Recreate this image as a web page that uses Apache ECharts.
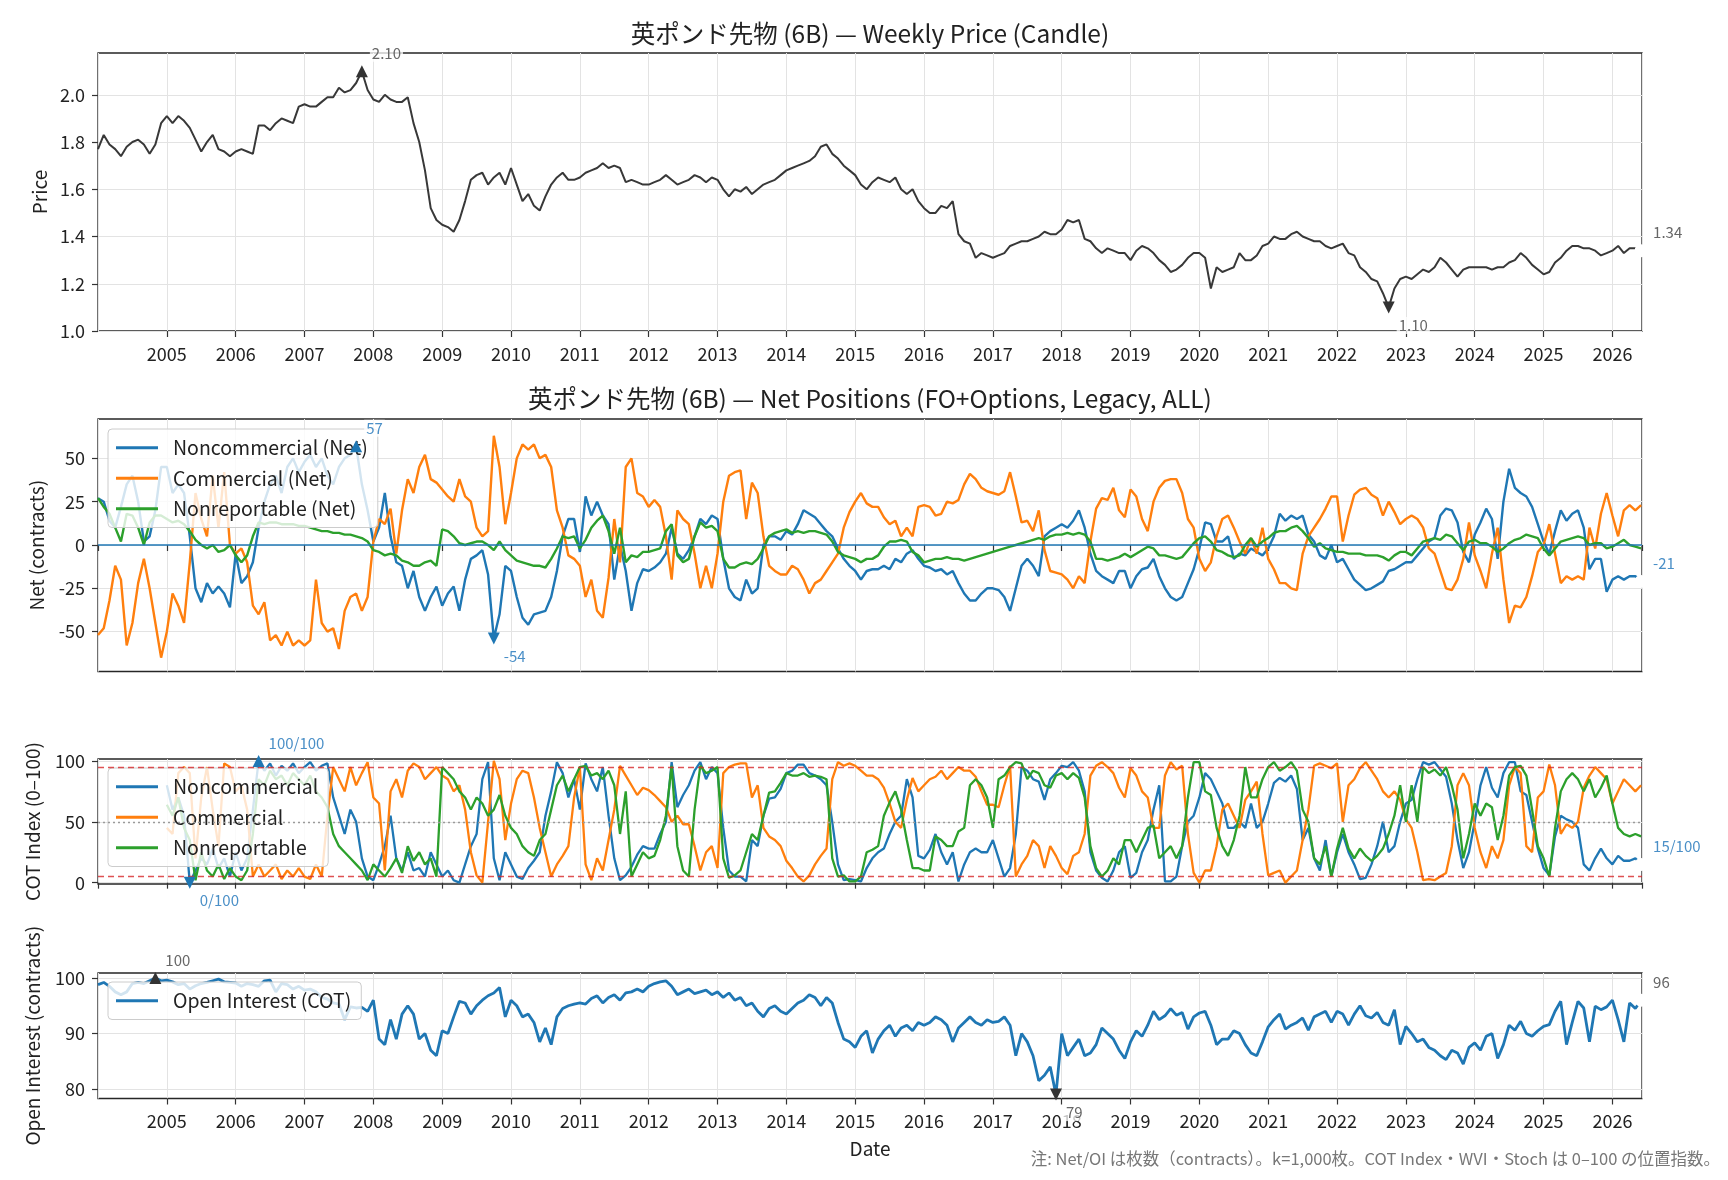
<!DOCTYPE html>
<html><head><meta charset="utf-8">
<script src="https://cdn.jsdelivr.net/npm/echarts@6/dist/echarts.min.js"></script>
<style>html,body{margin:0;padding:0;background:#fff}#c{width:1728px;height:1180px}</style>
</head><body><div id="c"></div>
<script>
// ---- monthly samples, Jan 2004 .. Jun 2026 ----
const START_YEAR = 2004;
const X_MIN = 2004, X_MAX = 2026.43;
const TITLE_PRICE = '英ポンド先物 (6B) — Weekly Price (Candle)';
const TITLE_NET = '英ポンド先物 (6B) — Net Positions (FO+Options, Legacy, ALL)';
const FOOTNOTE = '注: Net/OI は枚数（contracts）。k=1,000枚。COT Index・WVI・Stoch は 0–100 の位置指数。';

const price = [
1.77,1.83,1.79,1.77,1.74,1.78,1.80,1.81,1.79,1.75,1.79,1.88,
1.91,1.88,1.91,1.89,1.86,1.81,1.76,1.80,1.83,1.77,1.76,1.74,
1.76,1.77,1.76,1.75,1.87,1.87,1.85,1.88,1.90,1.89,1.88,1.95,
1.96,1.95,1.95,1.97,1.99,1.99,2.03,2.01,2.02,2.05,2.10,2.02,
1.98,1.97,2.00,1.98,1.97,1.97,1.99,1.88,1.80,1.68,1.52,1.47,
1.45,1.44,1.42,1.47,1.55,1.64,1.66,1.67,1.62,1.65,1.67,1.62,
1.69,1.62,1.55,1.58,1.53,1.51,1.57,1.62,1.65,1.67,1.64,1.64,
1.65,1.67,1.68,1.69,1.71,1.69,1.70,1.69,1.63,1.64,1.63,1.62,
1.62,1.63,1.64,1.66,1.64,1.62,1.63,1.64,1.66,1.65,1.63,1.65,
1.64,1.60,1.57,1.60,1.59,1.61,1.58,1.60,1.62,1.63,1.64,1.66,
1.68,1.69,1.70,1.71,1.72,1.74,1.78,1.79,1.75,1.73,1.70,1.68,
1.66,1.62,1.60,1.63,1.65,1.64,1.63,1.65,1.60,1.58,1.60,1.55,
1.52,1.50,1.50,1.53,1.52,1.55,1.41,1.38,1.37,1.31,1.33,1.32,
1.31,1.32,1.33,1.36,1.37,1.38,1.38,1.39,1.40,1.42,1.41,1.41,
1.43,1.47,1.46,1.47,1.39,1.38,1.35,1.33,1.35,1.34,1.33,1.33,
1.30,1.34,1.36,1.35,1.33,1.30,1.28,1.25,1.26,1.28,1.31,1.33,
1.33,1.31,1.18,1.27,1.25,1.26,1.27,1.33,1.30,1.30,1.32,1.36,
1.37,1.40,1.39,1.39,1.41,1.42,1.40,1.39,1.38,1.38,1.36,1.35,
1.36,1.37,1.33,1.32,1.27,1.25,1.22,1.21,1.16,1.10,1.18,1.22,
1.23,1.22,1.24,1.26,1.25,1.27,1.31,1.29,1.26,1.23,1.26,1.27,
1.27,1.27,1.27,1.26,1.27,1.27,1.29,1.30,1.33,1.31,1.28,1.26,
1.24,1.25,1.29,1.31,1.34,1.36,1.36,1.35,1.35,1.34,1.32,1.33,
1.34,1.36,1.33,1.35,1.35,1.34];

const netNonComm = [
27,25,14,10,22,35,40,25,2,5,20,45,
45,30,35,30,5,-25,-33,-22,-28,-24,-28,-36,
-5,-22,-18,-10,10,25,35,40,30,45,50,42,
48,52,45,50,40,35,45,50,52,57,35,20,
2,10,30,5,-10,-12,-25,-15,-30,-38,-30,-24,
-35,-28,-24,-38,-20,-8,-6,-3,-17,-54,-40,-12,
-15,-30,-42,-46,-40,-39,-38,-30,-15,5,15,15,
-4,28,17,25,17,12,-20,0,-15,-38,-22,-14,
-15,-13,-10,-5,10,-5,-8,-3,5,15,12,17,
15,-8,-25,-30,-32,-20,-28,-25,0,5,5,3,
8,6,12,20,18,16,12,8,5,-2,-8,-12,
-15,-20,-15,-14,-14,-12,-14,-8,-10,-5,-3,-8,
-12,-13,-15,-14,-17,-15,-22,-28,-32,-32,-28,-25,
-25,-26,-30,-38,-25,-12,-8,-12,-18,5,8,10,
12,10,14,20,10,-5,-15,-18,-20,-22,-15,-15,
-25,-18,-14,-13,-8,-18,-25,-30,-32,-30,-22,-14,
-2,13,12,2,2,5,-8,-5,-6,-2,-4,-6,
-2,5,18,14,17,15,17,6,2,-6,-8,0,
-10,-8,-14,-20,-23,-26,-25,-23,-21,-15,-14,-12,
-10,-10,-6,-2,2,4,17,21,20,13,-4,-10,
6,13,21,15,-8,25,44,33,30,28,22,12,
2,-5,8,20,14,18,20,10,-14,-8,-8,-27,
-20,-18,-20,-18,-18,-21];

const netComm = [
-52,-48,-32,-12,-20,-58,-45,-22,-8,-25,-45,-65,
-50,-28,-35,-45,-10,30,15,5,40,10,42,0,
-5,-2,-10,-35,-40,-33,-55,-52,-58,-50,-58,-55,
-58,-55,-20,-45,-50,-48,-60,-38,-30,-28,-38,-30,
2,15,12,21,-5,20,38,30,45,52,38,36,
32,28,25,38,28,25,10,5,8,63,45,12,
30,50,58,55,58,50,52,45,20,10,-6,-8,
-12,-30,-20,-38,-42,-19,15,-10,45,50,30,28,
22,26,22,5,-20,20,15,12,-5,-25,-12,-25,
-5,25,40,42,43,15,36,30,5,-12,-15,-17,
-17,-12,-14,-20,-28,-22,-20,-15,-10,-5,10,19,
25,30,24,22,22,16,12,14,5,10,5,22,
23,22,17,18,25,24,26,35,41,38,33,31,
30,29,31,42,28,13,14,8,20,-3,-15,-16,
-17,-20,-25,-18,-22,2,21,27,26,33,20,16,
32,28,15,8,25,33,37,38,38,30,15,10,
-8,-15,-10,5,15,17,10,2,-5,4,-5,10,
-8,-14,-22,-22,-25,-26,-5,5,10,15,21,28,
28,2,17,29,32,33,29,27,17,25,19,12,
15,17,15,10,-2,-5,-15,-25,-26,-20,-8,13,
-6,-15,-25,-5,10,-20,-45,-35,-36,-30,-18,-4,
0,12,-5,-22,-18,-20,-18,-20,10,-2,18,30,
17,5,20,23,20,23];

const netNonRep = [
27,22,18,10,2,18,17,10,0,13,17,17,
15,13,14,12,8,3,0,-2,0,-4,-3,0,
-6,-10,-6,5,13,12,13,13,12,12,12,11,
11,10,9,8,8,7,7,6,6,5,4,2,
-3,-4,-6,-5,-6,-9,-10,-12,-12,-10,-9,-12,
9,8,5,1,0,1,2,2,0,-3,2,-3,
-6,-9,-10,-11,-12,-12,-13,-8,-2,5,4,5,
-2,3,10,14,17,8,-5,10,-10,-6,-7,-4,
-4,-3,-2,8,12,-6,-10,-8,5,13,10,11,
8,-8,-13,-13,-11,-10,-11,-8,-2,5,7,8,
9,7,8,7,8,8,7,6,2,-4,-6,-7,
-8,-10,-8,-8,-6,-1,2,2,3,2,-4,-6,
-10,-9,-8,-8,-7,-8,-8,-9,-8,-7,-6,-5,
-4,-3,-2,-1,0,1,2,3,4,3,5,6,
6,7,6,7,6,2,-8,-8,-9,-8,-7,-5,
-7,-5,-3,-1,-2,-6,-6,-7,-8,-7,-3,1,
4,5,2,-3,-4,-6,-7,-6,0,4,-1,2,
4,7,8,8,10,11,8,4,-1,1,-2,-3,
-4,-4,-5,-5,-5,-6,-6,-6,-7,-9,-6,-4,
-4,-6,-2,2,3,4,3,6,5,1,-3,2,
3,1,1,-1,-4,-2,1,3,4,6,5,4,
-2,-6,-2,2,3,4,5,4,0,1,1,-2,
-1,1,3,0,-1,-2];

// COT Index series start in Jan 2005
const COT_OFFSET = 12;
const cotNonComm = [
80,60,70,55,0,10,20,15,28,12,20,5,
25,10,20,60,100,92,98,88,96,92,98,90,
95,99,92,96,98,70,55,40,60,50,20,5,
2,15,30,55,20,10,25,10,12,5,25,15,
5,10,2,0,15,30,40,85,99,20,2,25,
15,5,3,12,18,25,55,75,99,90,70,85,
60,98,85,75,95,55,20,2,6,13,23,30,
28,28,40,50,99,62,72,80,92,99,85,95,
90,45,10,5,5,1,35,30,55,69,70,77,
90,92,97,97,90,88,85,80,50,15,2,3,
2,1,12,20,25,28,40,50,55,85,70,22,
20,27,40,25,15,25,1,15,25,28,25,25,
35,20,5,12,40,95,92,85,83,68,85,90,
96,95,99,92,75,25,10,4,1,10,25,30,
4,8,25,35,60,80,1,1,5,30,50,55,
70,90,85,75,65,45,45,50,45,65,45,50,
65,82,86,83,88,77,35,45,20,10,35,5,
25,40,25,15,3,4,15,30,50,25,30,50,
65,68,85,99,97,99,93,87,65,35,12,25,
50,80,95,78,70,90,99,99,75,72,50,28,
12,6,38,55,52,50,45,15,10,20,28,20,
15,22,18,18,20,15];

const cotComm = [
45,40,90,95,90,20,70,95,60,30,98,95,
75,80,60,5,15,5,10,15,3,10,5,12,
5,3,15,5,55,95,85,75,95,80,90,99,
70,65,10,75,85,70,92,98,95,85,90,95,
88,85,75,80,60,25,6,0,50,100,85,35,
65,85,92,90,70,45,25,5,15,22,30,70,
95,15,2,20,10,35,60,96,88,80,72,78,
76,72,67,62,50,55,48,48,30,10,25,30,
12,90,95,97,98,98,70,80,45,38,35,30,
18,12,5,1,6,15,22,28,85,99,96,98,
96,92,88,88,85,78,65,50,45,68,86,75,
80,85,87,92,85,90,95,92,92,87,75,64,
64,62,80,96,5,15,22,35,30,12,30,22,
12,7,22,25,40,88,96,99,95,90,78,70,
94,88,75,70,45,45,88,99,93,96,40,8,
0,10,10,30,60,65,55,45,68,75,83,40,
6,8,10,0,5,10,35,60,96,98,96,94,
98,50,80,85,94,99,92,85,75,70,75,68,
52,45,25,2,3,2,5,8,30,80,90,80,
45,25,12,30,20,35,80,95,90,30,25,70,
75,97,80,40,48,45,50,78,88,95,90,85,
65,75,85,80,75,80];

const cotNonRep = [
64,55,70,45,35,2,25,10,5,15,3,12,
5,2,10,40,85,80,92,85,88,80,90,85,
80,88,75,70,62,40,30,25,20,15,10,2,
15,10,5,12,20,8,30,18,25,15,20,5,
95,90,85,75,70,60,70,65,55,60,72,55,
45,40,30,25,22,35,40,60,80,88,75,85,
95,96,88,90,85,92,80,40,75,5,15,25,
20,22,35,55,96,30,10,5,60,96,90,92,
95,20,4,6,10,25,40,35,55,74,75,82,
90,88,88,90,87,88,87,85,20,5,6,1,
1,5,25,27,30,55,66,75,60,35,12,12,
10,10,38,35,30,30,42,45,80,85,80,70,
45,85,88,95,99,98,85,92,90,80,78,88,
90,85,90,86,70,30,12,5,10,20,15,35,
35,25,35,45,47,20,25,30,20,30,70,99,
99,75,72,45,30,22,35,55,95,70,70,85,
95,99,92,95,99,92,60,50,20,15,30,5,
28,45,28,20,28,22,18,22,28,40,55,80,
50,80,50,95,90,93,88,95,80,60,20,40,
65,55,65,62,35,55,88,95,96,88,60,30,
20,5,45,75,85,90,85,75,85,70,78,88,
65,45,40,38,40,38];

const openInterest = [
98.8,99.2,98.5,97.5,97.0,97.5,99.0,99.2,99.0,99.5,100,99.5,
99.6,99.3,98.8,99.0,98.0,98.6,99.0,99.2,99.5,99.8,99.3,99.2,
99.1,98.5,99.0,98.8,98.5,99.5,99.6,97.5,99.0,98.8,98.0,98.5,
97.8,98.0,97.5,96.5,96.2,95.5,95.3,92.5,94.8,94.6,94.7,94.0,
96.0,89.0,88.0,92.5,89.0,93.5,95.0,93.5,89.0,90.0,87.0,86.0,
90.5,90.0,93.0,95.8,95.5,93.5,95.0,96.0,96.8,97.3,98.3,93.0,
96.0,95.0,93.0,93.5,92.0,88.5,91.0,88.0,93.0,94.5,95.0,95.3,
95.5,95.3,96.3,96.8,95.5,96.5,97.0,96.0,97.3,97.5,98.0,97.5,
98.5,99.0,99.3,99.5,98.5,97.0,97.5,98.0,97.2,97.5,97.8,97.0,
97.5,96.5,97.3,96.0,96.5,95.0,95.5,94.0,93.0,94.5,95.0,94.0,
93.5,94.5,95.5,96.0,97.0,96.5,95.0,96.5,95.5,92.0,89.0,88.5,
87.5,89.5,90.5,86.5,89.0,90.5,91.5,89.5,91.0,91.5,90.5,92.0,
91.5,92.0,93.0,92.5,91.5,88.5,91.0,92.0,93.0,92.0,91.5,92.5,
92.0,92.2,93.0,91.5,86.0,90.0,88.5,86.0,81.5,82.5,84.0,79.0,
90.0,86.0,87.5,89.0,86.0,86.5,88.0,91.0,90.0,89.0,87.0,85.5,
88.5,90.5,89.5,91.5,94.0,92.5,93.2,94.5,93.3,93.8,90.8,93.0,
93.7,94.0,91.5,88.0,89.0,89.0,90.5,90.0,88.0,86.5,86.0,88.5,
91.2,92.5,93.5,90.8,91.5,92.0,92.8,90.6,93.0,93.5,94.0,92.0,
94.0,93.5,91.5,93.5,95.0,93.2,92.8,93.8,92.0,91.5,94.3,88.0,
91.3,90.0,88.5,89.0,87.5,87.0,86.0,85.3,87.0,86.5,84.5,87.5,
88.3,87.0,89.5,90.0,85.5,88.0,91.5,90.6,92.2,90.0,89.5,90.5,
91.3,91.6,94.0,95.8,88.0,92.0,95.8,94.6,88.5,94.9,94.3,94.8,
96.0,92.5,88.5,95.5,94.5,96.0];

const yearTicksFmt = v => String(Math.round(v));
const netTicks = [-50, -25, 0, 25, 50];
const cotTicks = [0, 50, 100];
const oiTicks = [80, 90, 100];
const priceTicks = [1.0, 1.2, 1.4, 1.6, 1.8, 2.0];

// ---- build ----
const FONT = '"Noto Sans CJK JP", "Noto Sans", sans-serif';
const C_BLUE = '#1f77b4', C_ORANGE = '#ff7f0e', C_GREEN = '#2ca02c', C_PRICE = '#383838';
const LBL_BLUE = '#4a8fc7', LBL_GRAY = '#666666';
const xAt = i => START_YEAR + i / 12;
const pairs = (arr, off = 0) => arr.map((v, i) => [xAt(i + off), v]);

function argExt(arr) {
  let mx = 0, mn = 0;
  arr.forEach((v, i) => { if (v > arr[mx]) mx = i; if (v < arr[mn]) mn = i; });
  return {mx, mn};
}
function tri(x, y, text, down, mColor, lColor) {
  return {
    coord: [x, y], symbol: 'triangle', symbolSize: 12, symbolRotate: down ? 180 : 0,
    itemStyle: {color: mColor},
    label: {show: true, formatter: text, position: 'inside', offset: [8, down ? 18 : -18],
      align: 'left', verticalAlign: 'middle', color: lColor, fontSize: 15, fontFamily: FONT,
      backgroundColor: 'rgba(255,255,255,0.75)', padding: [1, 2]}
  };
}
function lastPt(x, y, text, lColor) {
  return {
    coord: [x, y], symbol: 'emptyCircle', symbolSize: 11,
    itemStyle: {color: '#fff', borderColor: '#333', borderWidth: 1.5},
    label: {show: true, formatter: text, position: 'inside', offset: [12, -18],
      align: 'left', verticalAlign: 'middle', color: lColor, fontSize: 15, fontFamily: FONT}
  };
}
const markBase = {animation: false, silent: true};

const pE = argExt(price), nE = argExt(netNonComm), cE = argExt(cotNonComm), oE = argExt(openInterest);
const lastI = price.length - 1;

const grids = [
  {left: 98, right: 86, top: 53, height: 278},
  {left: 98, right: 86, top: 419, height: 252.5},
  {left: 98, right: 86, top: 759, height: 125},
  {left: 98, right: 86, top: 973, height: 125.5}
].map(g => Object.assign(g, {show: true, borderColor: '#262626', borderWidth: 1.3, backgroundColor: 'transparent'}));

const xAxes = [0, 1, 2, 3].map(i => ({
  type: 'value', gridIndex: i, min: X_MIN, max: X_MAX, interval: 1,
  axisLine: {show: false},
  axisTick: {show: true, length: 6, lineStyle: {color: '#333', width: 1.2}},
  axisLabel: {show: i === 0 || i === 3, formatter: yearTicksFmt, showMinLabel: false, showMaxLabel: false,
    margin: 14, fontSize: 18, color: '#222', fontFamily: FONT},
  splitLine: {show: true, lineStyle: {color: '#e3e3e3', width: 1}},
  name: i === 3 ? 'Date' : '', nameLocation: 'middle', nameGap: 41,
  nameTextStyle: {fontSize: 19, color: '#222', fontFamily: FONT}
}));

function yAxis(i, min, max, ticks, fmt, name, gap) {
  return {
    type: 'value', gridIndex: i, min, max,
    axisLine: {show: false},
    axisTick: {show: true, length: 6, lineStyle: {color: '#333', width: 1.2}, customValues: ticks},
    axisLabel: {customValues: ticks, formatter: fmt, margin: 13, fontSize: 18, color: '#222', fontFamily: FONT},
    splitLine: {show: true, lineStyle: {color: '#e3e3e3', width: 1}},
    name, nameLocation: 'middle', nameGap: gap,
    nameTextStyle: {fontSize: 19, color: '#222', fontFamily: FONT}
  };
}
const yAxes = [
  yAxis(0, 1.0, 2.177, priceTicks, v => v.toFixed(1), 'Price', 48),
  yAxis(1, -73, 72.7, netTicks, v => String(v), 'Net (contracts)', 52),
  yAxis(2, -1.1, 101.6, cotTicks, v => String(v), 'COT Index (0–100)', 56),
  yAxis(3, 78.3, 100.9, oiTicks, v => String(v), 'Open Interest (contracts)', 56)
];

function line(name, data, color, width, gi) {
  return {name, type: 'line', xAxisIndex: gi, yAxisIndex: gi, data, showSymbol: false, symbol: 'none',
    lineStyle: {color, width}, itemStyle: {color}, emphasis: {disabled: true}, z: 2};
}

const s = [];
// Panel 1: price
const sPrice = line('Price', pairs(price), C_PRICE, 2.0, 0);
sPrice.markPoint = Object.assign({}, markBase, {data: [
  tri(xAt(pE.mx), price[pE.mx], price[pE.mx].toFixed(2), false, '#333', LBL_GRAY),
  tri(xAt(pE.mn), price[pE.mn], price[pE.mn].toFixed(2), true, '#333', LBL_GRAY),
  lastPt(xAt(lastI), price[lastI], price[lastI].toFixed(2), LBL_GRAY)
]});
s.push(sPrice);

// Panel 2: net positions
const sNC = line('Noncommercial (Net)', pairs(netNonComm), C_BLUE, 2.4, 1);
sNC.markPoint = Object.assign({}, markBase, {data: [
  tri(xAt(nE.mx), netNonComm[nE.mx], String(netNonComm[nE.mx]), false, C_BLUE, LBL_BLUE),
  tri(xAt(nE.mn), netNonComm[nE.mn], String(netNonComm[nE.mn]), true, C_BLUE, LBL_BLUE),
  lastPt(xAt(lastI), netNonComm[lastI], String(netNonComm[lastI]), LBL_BLUE)
]});
sNC.markLine = Object.assign({}, markBase, {symbol: 'none', label: {show: false},
  data: [{yAxis: 0}], lineStyle: {color: C_BLUE, width: 1.6, type: 'solid'}});
s.push(sNC);
s.push(line('Commercial (Net)', pairs(netComm), C_ORANGE, 2.4, 1));
s.push(line('Nonreportable (Net)', pairs(netNonRep), C_GREEN, 2.4, 1));

// Panel 3: COT index
const sCN = line('Noncommercial', pairs(cotNonComm, COT_OFFSET), C_BLUE, 2.3, 2);
const cotLastI = cotNonComm.length - 1;
sCN.markPoint = Object.assign({}, markBase, {data: [
  tri(xAt(cE.mx + COT_OFFSET), cotNonComm[cE.mx], cotNonComm[cE.mx] + '/100', false, C_BLUE, LBL_BLUE),
  tri(xAt(cE.mn + COT_OFFSET), cotNonComm[cE.mn], cotNonComm[cE.mn] + '/100', true, C_BLUE, LBL_BLUE),
  lastPt(xAt(cotLastI + COT_OFFSET), cotNonComm[cotLastI], cotNonComm[cotLastI] + '/100', LBL_BLUE)
]});
sCN.markLine = Object.assign({}, markBase, {symbol: 'none', label: {show: false}, data: [
  {yAxis: 95, lineStyle: {color: 'rgba(214,39,40,0.8)', width: 1.4, type: [6, 4]}},
  {yAxis: 5, lineStyle: {color: 'rgba(214,39,40,0.8)', width: 1.4, type: [6, 4]}},
  {yAxis: 50, lineStyle: {color: '#9a9a9a', width: 1.3, type: [2, 3]}}
]});
s.push(sCN);
s.push(line('Commercial', pairs(cotComm, COT_OFFSET), C_ORANGE, 2.3, 2));
s.push(line('Nonreportable', pairs(cotNonRep, COT_OFFSET), C_GREEN, 2.3, 2));

// Panel 4: open interest
const sOI = line('Open Interest (COT)', pairs(openInterest), C_BLUE, 2.8, 3);
sOI.markPoint = Object.assign({}, markBase, {data: [
  tri(xAt(oE.mx), openInterest[oE.mx], String(Math.round(openInterest[oE.mx])), false, '#333', LBL_GRAY),
  tri(xAt(oE.mn), openInterest[oE.mn], String(Math.round(openInterest[oE.mn])), true, '#333', LBL_GRAY),
  lastPt(xAt(lastI), openInterest[lastI], String(Math.round(openInterest[lastI])), LBL_GRAY)
]});
s.push(sOI);

const legendBase = {
  orient: 'vertical', icon: 'rect', itemWidth: 42, itemHeight: 3, itemGap: 11,
  padding: [9, 10, 9, 8], backgroundColor: 'rgba(255,255,255,0.8)', borderColor: '#cccccc',
  borderWidth: 1, borderRadius: 4, selectedMode: false,
  textStyle: {fontSize: 19.5, color: '#222', fontFamily: FONT, padding: [0, 0, 0, 10]}
};
const legends = [
  Object.assign({}, legendBase, {left: 108, top: 429, data: ['Noncommercial (Net)', 'Commercial (Net)', 'Nonreportable (Net)']}),
  Object.assign({}, legendBase, {left: 108, top: 768, data: ['Noncommercial', 'Commercial', 'Nonreportable']}),
  Object.assign({}, legendBase, {left: 108, top: 982, data: ['Open Interest (COT)']})
];

const chart = echarts.init(document.getElementById('c'), null, {renderer: 'canvas'});
chart.setOption({
  animation: false,
  backgroundColor: '#ffffff',
  textStyle: {fontFamily: FONT},
  title: [
    {text: TITLE_PRICE, left: 870, top: 21, textAlign: 'center', padding: 0,
      textStyle: {fontSize: 24.5, fontWeight: 'normal', color: '#222', fontFamily: FONT}},
    {text: TITLE_NET, left: 870, top: 386, textAlign: 'center', padding: 0,
      textStyle: {fontSize: 24.5, fontWeight: 'normal', color: '#222', fontFamily: FONT}}
  ],
  grid: grids,
  xAxis: xAxes,
  yAxis: yAxes,
  legend: legends,
  series: s,
  graphic: [{type: 'text', right: 8, top: 1150, z: 10,
    style: {text: FOOTNOTE, fontSize: 16.5, fill: '#777', fontFamily: FONT}}]
});
</script></body></html>
